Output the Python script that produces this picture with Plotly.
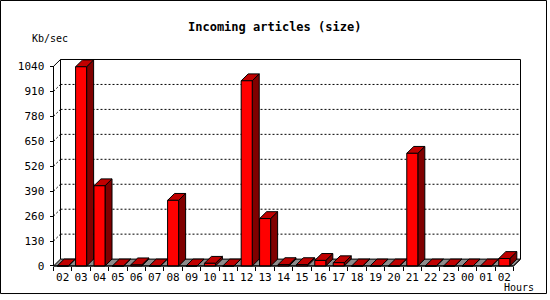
import plotly.graph_objects as go

# ---- data ----
hours = ["02", "03", "04", "05", "06", "07", "08", "09", "10", "11", "12", "13",
         "14", "15", "16", "17", "18", "19", "20", "21", "22", "23", "00", "01", "02"]
kb_per_sec = [0, 1038, 418, 0, 6, 0, 342, 0, 14, 0, 965, 247,
              7, 7, 29, 17, 0, 0, 0, 587, 0, 0, 0, 0, 39]
y_ticks = [0, 130, 260, 390, 520, 650, 780, 910, 1040]
title_text = "Incoming articles (size)"
y_title = "Kb/sec"
x_title = "Hours"

# ---- geometry / styling ----
W, H = 550, 300
X_LEFT, X_RIGHT = 53.5, 513.5     # front x-axis extent (px)
Y_BOTTOM, Y_TOP = 270.5, 67.5     # front y-axis extent (px)
DEPTH = 7                          # 3d depth offset (px)
PAD = 2
FRONT, TOP, SIDE = "#ff0000", "#c00000", "#800000"
FLOOR = "#8c8c8c"
HW = 0.3  # half bar width in category units

n = len(hours)
ux = (X_RIGHT - X_LEFT) / n
ymax = y_ticks[-1]
uy = (Y_BOTTOM - Y_TOP) / ymax
dx = DEPTH / ux
dy = DEPTH / uy
x0, x1 = -0.5, n - 0.5

xrange_ = [x0 - PAD / ux, x1 + dx + PAD / ux]
yrange_ = [-PAD / uy, ymax + dy + PAD / uy]
xdomain = [(X_LEFT - PAD) / W, (X_RIGHT + DEPTH + PAD) / W]
ydomain = [1 - (Y_BOTTOM + PAD) / H, 1 - (Y_TOP - DEPTH - PAD) / H]

fig = go.Figure()


def poly_trace(xs, ys, fill, color=None, width=1, dash=None):
    line = dict(color="black", width=width)
    if dash:
        line["dash"] = dash
    kw = dict(x=xs, y=ys, mode="lines", line=line, hoverinfo="skip", showlegend=False)
    if fill:
        kw.update(fill="toself", fillcolor=color)
    return go.Scatter(**kw)


# floor
fig.add_trace(poly_trace([x0, x1, x1 + dx, x0 + dx, x0], [0, 0, dy, dy, 0], True, FLOOR))

# dotted gridlines on back wall + diagonal connectors
gx, gy = [], []
for v in y_ticks[1:-1]:
    gx += [x0 + dx, x1 + dx, None, x0, x0 + dx, None]
    gy += [v + dy, v + dy, None, v, v + dy, None]
fig.add_trace(poly_trace(gx, gy, False, dash="2px,2px"))

# back wall outline
fig.add_trace(poly_trace([x0 + dx, x0 + dx, x1 + dx, x1 + dx],
                         [dy, ymax + dy, ymax + dy, dy], False))

# bars (front, top, side faces)
fx, fy, tx, ty, sx, sy = [], [], [], [], [], []
for i, v in enumerate(kb_per_sec):
    a, b = i - HW, i + HW
    fx += [a, b, b, a, a, None]
    fy += [0, 0, v, v, 0, None]
    tx += [a, b, b + dx, a + dx, a, None]
    ty += [v, v, v + dy, v + dy, v, None]
    sx += [b, b + dx, b + dx, b, b, None]
    sy += [0, dy, v + dy, v, 0, None]
fig.add_trace(poly_trace(sx, sy, True, SIDE))
fig.add_trace(poly_trace(tx, ty, True, TOP))
fig.add_trace(poly_trace(fx, fy, True, FRONT))

# front axis lines
fig.add_trace(poly_trace([x0 + dx, x0, x0, x1, x1 + dx],
                         [ymax + dy, ymax, 0, 0, dy], False))

font = dict(family="DejaVu Sans Mono", size=10, color="black")

fig.update_layout(
    width=W, height=H,
    margin=dict(l=0, r=0, t=0, b=0),
    paper_bgcolor="white", plot_bgcolor="white",
    showlegend=False,
    xaxis=dict(
        domain=xdomain, range=xrange_, anchor="free", position=1 - Y_BOTTOM / H,
        tickmode="array", tickvals=list(range(n)), ticktext=hours,
        ticks="", showgrid=False, zeroline=False, showline=False,
        ticklabelstandoff=3,
        tickfont=dict(family="DejaVu Sans Mono", size=11, color="black"),
        minor=dict(tickmode="array", tickvals=[k - 0.5 for k in range(n + 1)],
                   ticks="outside", ticklen=4, tickcolor="black", showgrid=False),
        fixedrange=True,
    ),
    yaxis=dict(
        domain=ydomain, range=yrange_, anchor="free", position=X_LEFT / W,
        tickmode="array", tickvals=y_ticks, ticktext=[str(v) for v in y_ticks],
        ticks="outside", ticklen=4, tickcolor="black",
        ticklabelstandoff=3,
        showgrid=False, zeroline=False, showline=False,
        tickfont=dict(family="DejaVu Sans Mono", size=11, color="black"),
        fixedrange=True,
    ),
    annotations=[
        dict(text="<b>" + title_text + "</b>", x=274 / W, y=1 - 27 / H, xref="paper", yref="paper",
             showarrow=False, xanchor="center", yanchor="middle",
             font=dict(family="DejaVu Sans Mono", size=12, color="black")),
        dict(text=y_title, x=30 / W, y=1 - 39 / H, xref="paper", yref="paper",
             showarrow=False, xanchor="left", yanchor="middle", font=font),
        dict(text=x_title, x=535 / W, y=1 - 292 / H, xref="paper", yref="paper",
             showarrow=False, xanchor="right", yanchor="middle", font=font,
             borderpad=0),
    ],
    shapes=[dict(type="rect", xref="paper", yref="paper",
                 x0=0.5 / W, x1=546.5 / W, y0=1 - 298.5 / H, y1=1 - 0.5 / H,
                 line=dict(color="black", width=1), layer="above")],
)

fig.write_html("out.html")
